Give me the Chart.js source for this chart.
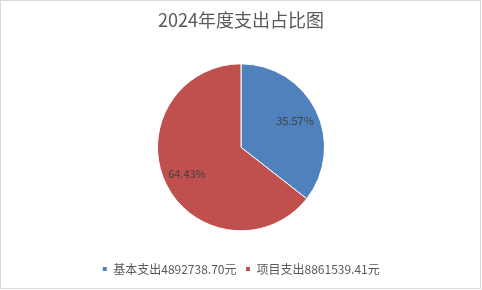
<!DOCTYPE html>
<html>
<head>
<meta charset="utf-8">
<script src="https://cdn.jsdelivr.net/npm/chart.js@4/dist/chart.umd.min.js"></script>
<style>
  html, body { margin: 0; padding: 0; background: #fff; }
  #wrap { width: 482px; height: 290px; position: relative; }
</style>
</head>
<body>
<div id="wrap"><canvas id="pieChart"></canvas></div>
<script>
// chart data
const titleText = '2024年度支出占比图';
const categories = ['基本支出', '项目支出'];
const amounts = [4892738.70, 8861539.41];
const colors = ['#4f81bd', '#c0504d'];

const legendLabels = categories.map((c, i) => c + amounts[i].toFixed(2) + '元');
const total = amounts.reduce((a, b) => a + b, 0);

Chart.defaults.font.family = '"Noto Sans CJK SC", "Microsoft YaHei", sans-serif';
Chart.defaults.color = '#595959';

// percent labels inside slices
const sliceLabels = {
    id: 'sliceLabels',
    afterDatasetsDraw(chart) {
        const ctx = chart.ctx;
        const meta = chart.getDatasetMeta(0);
        ctx.save();
        ctx.font = '11px "Noto Sans CJK SC", sans-serif';
        ctx.fillStyle = '#404040';
        ctx.textAlign = 'center';
        ctx.textBaseline = 'middle';
        meta.data.forEach((arc, i) => {
            const p = arc.getProps(['x', 'y', 'startAngle', 'endAngle', 'outerRadius'], true);
            const mid = (p.startAngle + p.endAngle) / 2;
            const r = p.outerRadius * 0.72;
            const pct = (amounts[i] / total * 100).toFixed(2) + '%';
            ctx.fillText(pct, p.x + Math.cos(mid) * r, p.y + Math.sin(mid) * r);
        });
        ctx.restore();
    }
};

// outer frame
const frame = {
    id: 'frame',
    afterDraw(chart) {
        const ctx = chart.ctx;
        ctx.save();
        ctx.strokeStyle = '#d9d9d9';
        ctx.lineWidth = 1;
        ctx.strokeRect(0.5, 0.5, 480, 288);
        ctx.restore();
    }
};

new Chart(document.getElementById('pieChart'), {
    type: 'pie',
    data: {
        labels: legendLabels,
        datasets: [{
            data: amounts,
            backgroundColor: colors,
            borderColor: '#ffffff',
            borderWidth: 1,
            radius: 83.5
        }]
    },
    options: {
        responsive: true,
        maintainAspectRatio: false,
        devicePixelRatio: 1,
        animation: false,
        layout: { padding: { top: 0, bottom: 5, left: 0, right: 0 } },
        plugins: {
            title: {
                display: true,
                text: titleText,
                color: '#595959',
                font: { size: 18, weight: 'normal' },
                padding: { top: 9, bottom: 10 }
            },
            legend: {
                position: 'bottom',
                labels: {
                    boxWidth: 5,
                    boxHeight: 5,
                    padding: 9,
                    color: '#595959',
                    font: { size: 12 }
                }
            },
            tooltip: { enabled: false }
        }
    },
    plugins: [sliceLabels, frame]
});
</script>
</body>
</html>
